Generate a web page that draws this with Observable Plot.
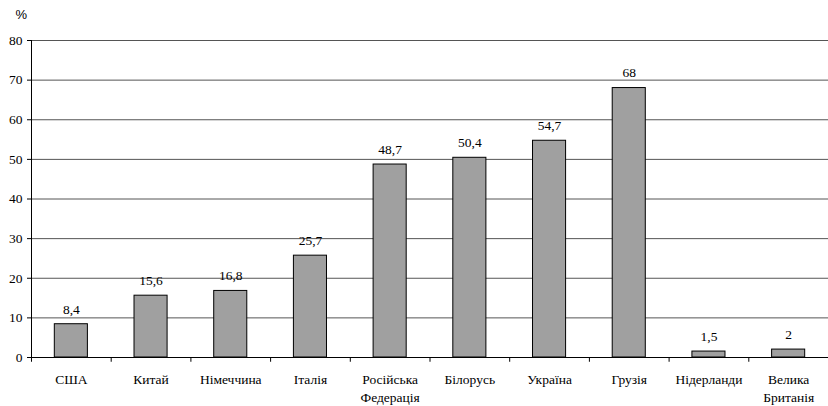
<!DOCTYPE html>
<html><head><meta charset="utf-8">
<script src="https://cdn.jsdelivr.net/npm/d3@7"></script>
<script src="https://cdn.jsdelivr.net/npm/@observablehq/plot@0.6"></script>
<style>body{margin:0;background:#fff}</style>
</head><body><div id="chart"></div>
<script>
const countries = ["США","Китай","Німеччина","Італія","Російська\nФедерація","Білорусь","Україна","Грузія","Нідерланди","Велика\nБританія"];
const values = [8.4,15.6,16.8,25.7,48.7,50.4,54.7,68,1.5,2];
const yTicks = [0,10,20,30,40,50,60,70,80];

const data = countries.map((c,i)=>({c, v: values[i]}));
const W = 828, H = 406, mL = 31, mR = 0;
const step = (W - mL - mR) / countries.length;
const fs = 13.5;
const SERIF = "'Liberation Serif', 'Times New Roman', serif";
const SANS = "'Liberation Sans', Arial, sans-serif";

const chart = Plot.plot({
  width: W, height: H,
  marginLeft: mL, marginRight: mR, marginTop: 40, marginBottom: 49,
  style: {fontSize: fs + "px", fontFamily: SERIF, color: "#000", background: "#fff", overflow: "visible"},
  x: {domain: countries, paddingInner: 0.585, paddingOuter: 0.2925, round: false, label: null},
  y: {domain: [0, 80], label: null},
  marks: [
    Plot.gridY(yTicks.filter(d=>d>0), {stroke: "#555", strokeOpacity: 1, strokeWidth: 1}),
    Plot.axisY({ticks: yTicks, tickSize: 4, tickPadding: 5, fontSize: fs, label: null, stroke: "#000"}),
    Plot.frame({anchor: "left", stroke: "#000"}),
    Plot.barY(data, {x: "c", y: "v", fill: "#a0a0a0", stroke: "#000", strokeWidth: 1}),
    Plot.ruleY([0], {stroke: "#000"}),
    Plot.ruleX(countries, {x: d=>d, y1: 0, y2: -1.2, dx: -step/2, stroke: "#000"}),
    Plot.ruleX(countries.slice(-1), {x: d=>d, y1: 0, y2: -1.2, dx: step/2, stroke: "#000"}),
    Plot.text(data, {x: "c", y: "v", text: d => String(d.v).replace(".", ","), dy: -15, fontSize: fs, fill: "#000"}),
    Plot.axisX({tickSize: 0, tickPadding: 14, fontSize: fs, lineHeight: 1.3, label: null}),
    Plot.text(["%"], {frameAnchor: "top-left", dx: -16, dy: -31, text: d=>d, fontSize: 13, textAnchor: "start", lineAnchor: "top", className: "pctmark"})
  ]
});
chart.querySelectorAll("text").forEach(t => {
  const isPct = t.closest("g.pctmark") !== null;
  t.setAttribute("font-family", isPct ? SANS : SERIF);
  t.style.fontFamily = isPct ? SANS : SERIF;
});
document.getElementById("chart").append(chart);
</script>
</body></html>
